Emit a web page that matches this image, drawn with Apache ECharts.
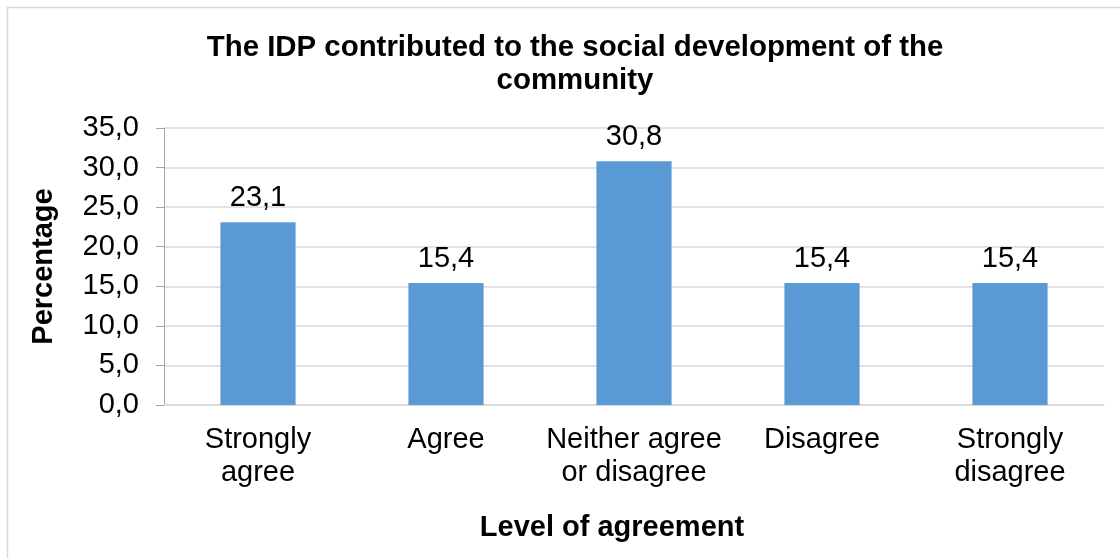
<!DOCTYPE html>
<html>
<head>
<meta charset="utf-8">
<script src="https://cdn.jsdelivr.net/npm/echarts@6/dist/echarts.min.js"></script>
<style>
  html, body { margin: 0; padding: 0; background: #fff; }
  #chart { width: 1120px; height: 558px; }
</style>
</head>
<body>
<div id="chart"></div>
<script>
// Survey responses: level of agreement (percentage of respondents)
const categories = ['Strongly\nagree', 'Agree', 'Neither agree\nor disagree', 'Disagree', 'Strongly\ndisagree'];
const percentages = [23.1, 15.4, 30.8, 15.4, 15.4];
const titleText = 'The IDP contributed to the social development of the\ncommunity';
const yAxisTitle = 'Percentage';
const xAxisTitle = 'Level of agreement';

const FONT = '"Liberation Sans", Arial, sans-serif';
const fmt = v => v.toFixed(1).replace('.', ',');

const chart = echarts.init(document.getElementById('chart'), null, { renderer: 'canvas' });
chart.setOption({
  backgroundColor: '#ffffff',
  animation: false,
  graphic: [{
    type: 'rect',
    shape: { x: 7.5, y: 7.5, width: 1300, height: 700 },
    style: { fill: 'none', stroke: '#d9d9d9', lineWidth: 1.5 },
    silent: true
  }],
  title: {
    text: titleText,
    left: 570,
    top: 26,
    textAlign: 'center',
    textStyle: { fontFamily: FONT, fontSize: 29.4, fontWeight: 'bold', color: '#000', lineHeight: 33 }
  },
  grid: { left: 164, right: 16, top: 128, bottom: 153, containLabel: false },
  xAxis: {
    type: 'category',
    data: categories,
    name: xAxisTitle,
    nameLocation: 'middle',
    nameGap: 108,
    nameTextStyle: { fontFamily: FONT, fontSize: 29, fontWeight: 'bold', color: '#000', padding: [0, 44, 0, 0] },
    axisLine: { lineStyle: { color: '#d9d9d9', width: 1.5 } },
    axisTick: { show: false },
    axisLabel: { fontFamily: FONT, fontSize: 29, color: '#000', lineHeight: 33, margin: 18, interval: 0 }
  },
  yAxis: {
    type: 'value',
    min: 0,
    max: 35,
    interval: 5,
    name: yAxisTitle,
    nameLocation: 'middle',
    nameGap: 106,
    nameTextStyle: { fontFamily: FONT, fontSize: 29, fontWeight: 'bold', color: '#000' },
    axisLine: { show: true, lineStyle: { color: '#a6a6a6', width: 1 } },
    axisTick: { show: true, inside: false, length: 8, lineStyle: { color: '#a6a6a6' } },
    splitLine: { lineStyle: { color: '#d9d9d9', width: 1.5 } },
    axisLabel: { fontFamily: FONT, fontSize: 29, color: '#000', margin: 25, formatter: fmt }
  },
  series: [{
    type: 'bar',
    data: percentages,
    barWidth: '40%',
    itemStyle: { color: '#5b9bd5' },
    label: {
      show: true,
      position: 'top',
      distance: 10,
      fontFamily: FONT,
      fontSize: 29,
      color: '#000',
      formatter: p => fmt(p.value)
    }
  }]
});
</script>
</body>
</html>
